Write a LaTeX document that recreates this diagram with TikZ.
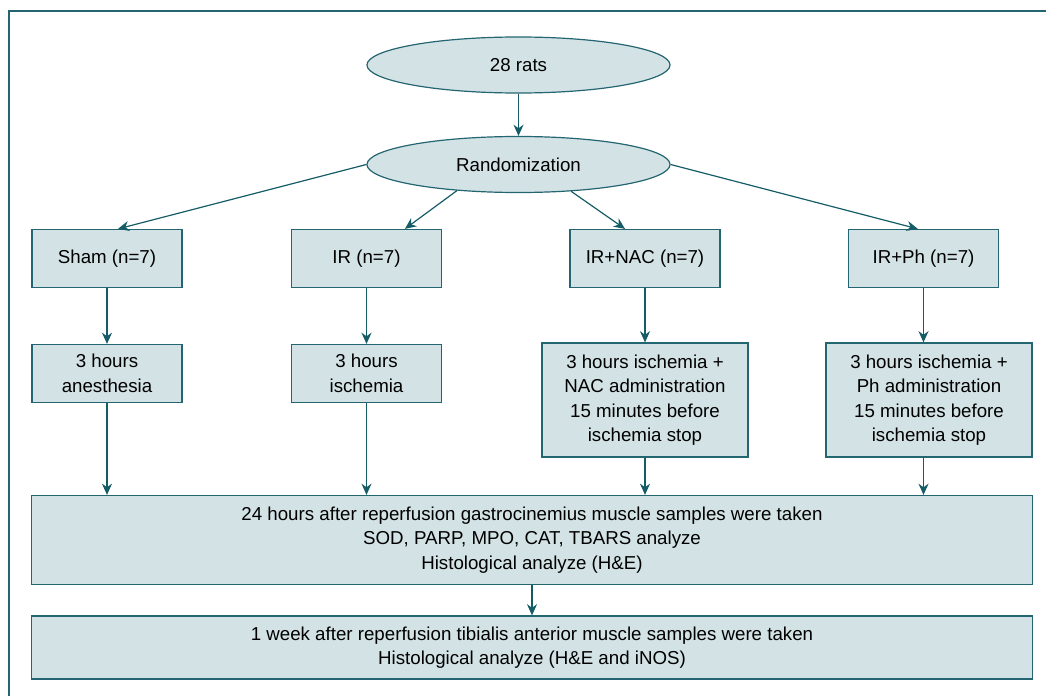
\documentclass[tikz,border=0pt]{standalone}
\usepackage{fontspec}
\setmainfont{Liberation Sans}
\usepackage{xcolor}
\usetikzlibrary{shapes,arrows.meta,positioning,calc}

\definecolor{boxfill}{HTML}{D3E2E5}
\definecolor{boxline}{HTML}{236570}
\definecolor{arrowcol}{HTML}{145C66}

\begin{document}
\begin{tikzpicture}[x=0.025cm,y=-0.025cm,
->,>={Stealth[length=2.8mm,width=2.5mm,inset=0.9mm]},
line width=0.85pt, draw=arrowcol,
font=\fontsize{13.3}{17.4}\selectfont]

\tikzstyle{oval}=[ellipse, minimum width=7.575cm, minimum height=1.4cm, inner sep=0pt,
fill=boxfill, draw=boxline, line width=0.85pt, text=black]
\tikzstyle{group}=[rectangle, minimum width=3.75cm, minimum height=1.45cm, inner sep=0pt,
fill=boxfill, draw=boxline, line width=0.85pt, text=black, align=center]
\tikzstyle{treat}=[group, minimum width=5.15cm, minimum height=2.85cm]
\tikzstyle{result}=[group, minimum width=25cm]

\useasboundingbox (0,0) rectangle (1046,696);

% frame
\draw[-, draw=boxline, line width=1pt] (9,696) |- (1046,11);

% top
\node[oval] (rats) at (518.5,65) {28 rats};
\node[oval] (rand) at (518.5,164.5) {Randomization};

% groups
\node[group] (sham) at (107,258.5) {Sham (n=7)};
\node[group] (ir) at (366.5,258.5) {IR (n=7)};
\node[group] (irnac) at (645,258.5) {IR+NAC (n=7)};
\node[group] (irph) at (923.5,258.5) {IR+Ph (n=7)};

% procedures
\node[group] (anest) at (107,373.5) {3 hours\\anesthesia};
\node[group] (isch) at (366.5,373.5) {3 hours\\ischemia};
\node[treat] (nacadm) at (645,400) {3 hours ischemia +\\NAC administration\\15 minutes before\\ischemia stop};
\node[treat] (phadm) at (929,400) {3 hours ischemia +\\Ph administration\\15 minutes before\\ischemia stop};

% samples
\node[result, minimum height=2.225cm] (samples) at (532,540)
{24 hours after reperfusion gastrocinemius muscle samples were taken\\
SOD, PARP, MPO, CAT, TBARS analyze\\Histological analyze (H\&E)};
\node[result, minimum height=1.575cm] (week) at (532,647.5)
{1 week after reperfusion tibialis anterior muscle samples were taken\\
Histological analyze (H\&E and iNOS)};

\draw (rats) -- (rand);
\draw (rand.west) -- ([xshift=0.275cm]sham.north);
\draw (rand.203) -- ([xshift=0.96cm]ir.north);
\draw (rand.333) -- ([xshift=-0.5cm]irnac.north);
\draw (rand.east) -- ([xshift=-0.14cm]irph.north);

\draw (sham) -- (anest);
\draw (ir) -- (isch);
\draw (irnac) -- (irnac |- nacadm.north);
\draw (irph.south) -- (irph.south |- phadm.north);

\draw (anest.south) -- (anest.south |- samples.north);
\draw (isch.south) -- (isch.south |- samples.north);
\draw (nacadm.south) -- (nacadm.south |- samples.north);
\draw (irph.south |- phadm.south) -- (irph.south |- samples.north);

\draw (samples) -- (week);

\end{tikzpicture}
\end{document}
